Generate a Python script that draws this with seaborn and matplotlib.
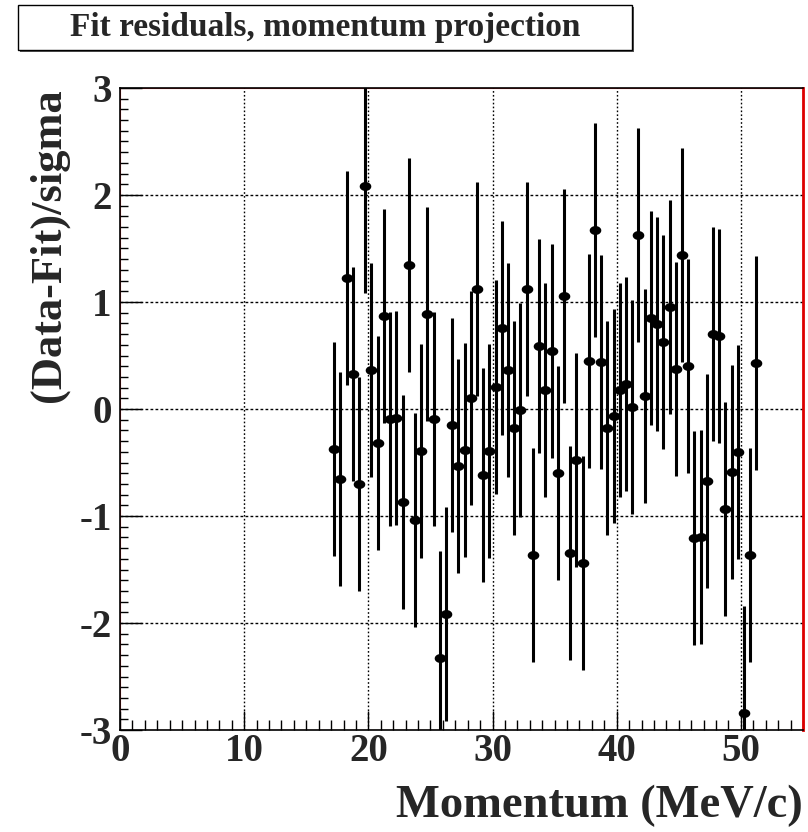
import numpy as np
import pandas as pd
import matplotlib
matplotlib.use("Agg")
import matplotlib.pyplot as plt
import seaborn as sns
from matplotlib.patches import Rectangle
from matplotlib.path import Path
from matplotlib.ticker import MultipleLocator

# ---- data ----
momentum = [17.25 + 0.5 * i for i in range(69)]
residual = [
    -0.37, -0.65, 1.22, 0.33, -0.70, 2.08, 0.36, -0.32, 0.87, -0.09,
    -0.08, -0.87, 1.35, -1.04, -0.39, 0.89, -0.09, -2.33, -1.92, -0.15,
    -0.53, -0.38, 0.10, 1.12, -0.62, -0.39, 0.21, 0.76, 0.36, -0.18,
    -0.01, 1.12, -1.36, 0.59, 0.18, 0.54, -0.60, 1.06, -1.35, -0.48,
    -1.44, 0.45, 1.67, 0.44, -0.18, -0.07, 0.18, 0.23, 0.02, 1.63,
    0.12, 0.85, 0.79, 0.63, 0.95, 0.37, 1.44, 0.40, -1.21, -1.20,
    -0.67, 0.70, 0.68, -0.93, -0.59, -0.40, -2.84, -1.36, 0.43,
]
error = [1.0] * len(residual)
x_ticks = [0, 10, 20, 30, 40, 50]
y_ticks = [-3, -2, -1, 0, 1, 2, 3]

df = pd.DataFrame({"Momentum": momentum, "Residual": residual, "Error": error})

sns.set_theme(style="white")
plt.rcParams["font.family"] = ["Liberation Serif", "DejaVu Serif"]
plt.rcParams["font.weight"] = "bold"
plt.rcParams["axes.unicode_minus"] = False

fig = plt.figure(figsize=(8.08, 8.32), dpi=100)
ax = fig.add_axes([120 / 808, 1 - 730 / 832, (803 - 120) / 808, (730 - 88) / 832])

# grid
for xv in x_ticks[1:]:
    ax.axvline(xv, color="black", lw=1.0, ls=(0, (1.2, 1.6)), zorder=1)
for yv in y_ticks[1:-1]:
    ax.axhline(yv, color="black", lw=1.0, ls=(0, (2.0, 1.6)), zorder=1)

# error bars
ax.vlines(df["Momentum"], df["Residual"] - df["Error"], df["Residual"] + df["Error"],
          color="black", lw=2.2, zorder=2)

# elliptical marker (wider than tall)
t = np.linspace(0, 2 * np.pi, 40)
ellipse = Path(np.column_stack([1.3 * np.cos(t), np.sin(t)]), closed=True)
sns.scatterplot(data=df, x="Momentum", y="Residual", ax=ax, color="black",
                marker=ellipse, s=70, edgecolor="black", linewidth=0, zorder=3,
                legend=False)

ax.set_xlim(0, 55)
ax.set_ylim(-3, 3)
ax.set_xticks(x_ticks)
ax.set_yticks(y_ticks)
ax.xaxis.set_minor_locator(MultipleLocator(1))
ax.yaxis.set_minor_locator(MultipleLocator(0.1))
ax.tick_params(axis="both", which="both", direction="in", bottom=True, left=True,
               top=False, right=False, color="black", width=1.0)
ax.tick_params(axis="x", which="major", length=14, pad=2, labelsize=28)
ax.tick_params(axis="x", which="minor", length=7)
ax.tick_params(axis="y", which="major", length=16, pad=6, labelsize=28)
ax.tick_params(axis="y", which="minor", length=6)
for lab in ax.get_xticklabels() + ax.get_yticklabels():
    lab.set_fontweight("bold")

for s in ["left", "top", "bottom"]:
    ax.spines[s].set_color("black")
    ax.spines[s].set_linewidth(1.2)
ax.spines["right"].set_color("#dd0000")
ax.spines["right"].set_linewidth(2.0)
# thin red inner frame lines
ax.axhline(3, color="#ee3333", lw=0.8, zorder=0)
ax.axhline(-3, color="#ee3333", lw=0.8, zorder=0)
ax.axvline(0, color="#ee3333", lw=0.8, zorder=0)

ax.set_xlabel("Momentum (MeV/c)", fontsize=33.5, fontweight="bold")
ax.xaxis.set_label_coords(1.0, -0.085)
ax.xaxis.label.set_horizontalalignment("right")
ax.set_ylabel("(Data-Fit)/sigma", fontsize=32, fontweight="bold")
ax.yaxis.set_label_coords(-0.075, 1.0)
ax.yaxis.label.set_horizontalalignment("right")

# title box with shadow
bx, by, bw, bh = 18 / 808, 1 - 50 / 832, (632 - 18) / 808, 45 / 832
fig.patches.append(Rectangle((bx + 2 / 808, by - 2 / 832), bw, bh, transform=fig.transFigure,
                             facecolor="#555555", edgecolor="none", zorder=5))
fig.patches.append(Rectangle((bx, by), bw, bh, transform=fig.transFigure,
                             facecolor="white", edgecolor="black", lw=1.0, zorder=6))
fig.text(bx + bw / 2, by + bh / 2, "Fit residuals, momentum projection", fontsize=24,
         fontweight="bold", ha="center", va="center", zorder=7)

fig.savefig("out.png", dpi=100)
